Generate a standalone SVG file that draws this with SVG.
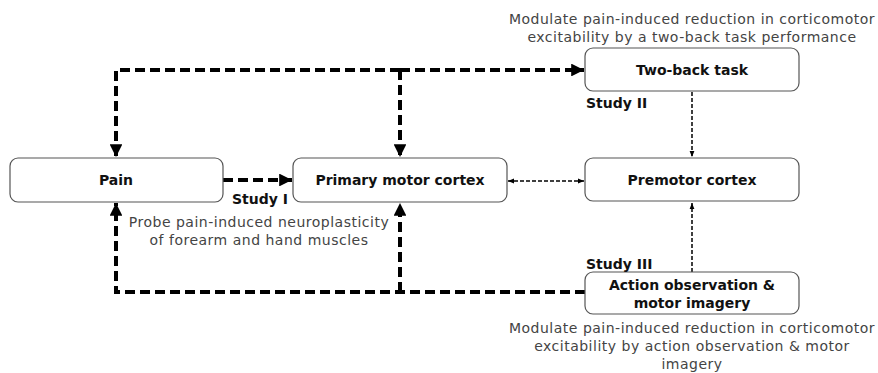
<svg xmlns="http://www.w3.org/2000/svg" width="878" height="373" viewBox="0 0 878 373">
<style>
.box{fill:#fff;stroke:#555;stroke-width:1.2}
.lbl{font-family:"DejaVu Sans",sans-serif;font-weight:bold;font-size:14px;fill:#111;text-anchor:middle}
.study{font-family:"DejaVu Sans",sans-serif;font-weight:bold;font-size:14px;fill:#111}
.note{font-family:"DejaVu Sans",sans-serif;font-size:14px;letter-spacing:0.5px;fill:#444;text-anchor:middle}
.thick{fill:none;stroke:#000;stroke-width:4;stroke-dasharray:10 5}
.thin{fill:none;stroke:#000;stroke-width:1.5;stroke-dasharray:4 2}
</style>
<defs>
<marker id="ah" viewBox="0 0 10 10" refX="10" refY="5" markerWidth="3.2" markerHeight="3.2" orient="auto" markerUnits="strokeWidth"><path d="M0,0 L10,5 L0,10 z" fill="#000"/></marker>
<marker id="as" viewBox="0 0 10 10" refX="10" refY="5" markerWidth="4" markerHeight="4" orient="auto-start-reverse" markerUnits="strokeWidth"><path d="M0,1 L10,5 L0,9 z" fill="#000"/></marker>
</defs>
<g id="connectors">
<path class="thick" d="M400,70 H116 V157" marker-end="url(#ah)"/>
<path class="thick" d="M400,70 H584" marker-end="url(#ah)"/>
<path class="thick" d="M400,70 V157" marker-end="url(#ah)"/>
<path class="thick" d="M223,180 H292" marker-end="url(#ah)"/>
<path class="thick" d="M585,292 H116 V203" marker-end="url(#ah)"/>
<path class="thick" d="M400,292 V203" marker-end="url(#ah)"/>
<path class="thin" d="M508,181 H584" marker-start="url(#as)" marker-end="url(#as)"/>
<path class="thin" d="M692,92 V157" marker-end="url(#as)"/>
<path class="thin" d="M692,272 V203" marker-end="url(#as)"/>
</g>
<g id="pain"><rect class="box" x="10" y="158" width="213" height="44" rx="8"/><text class="lbl" x="116" y="185">Pain</text></g>
<g id="pmc"><rect class="box" x="293" y="158" width="214" height="44" rx="8"/><text class="lbl" x="400" y="185">Primary motor cortex</text></g>
<g id="premotor"><rect class="box" x="585" y="158" width="214" height="43" rx="8"/><text class="lbl" x="692" y="185">Premotor cortex</text></g>
<g id="twoback"><rect class="box" x="585" y="48" width="214" height="43" rx="8"/><text class="lbl" x="692" y="75">Two-back task</text></g>
<g id="action"><rect class="box" x="585" y="272" width="214" height="42" rx="8"/><text class="lbl" x="692" y="290">Action observation  &amp;</text><text class="lbl" x="692" y="308">motor imagery</text></g>
<g id="labels">
<text class="study" x="232" y="204">Study I</text>
<text class="study" x="586" y="108">Study II</text>
<text class="study" x="586" y="269">Study III</text>
<text class="note" x="692" y="24">Modulate pain-induced reduction in corticomotor</text>
<text class="note" x="692" y="42">excitability by a two-back task performance</text>
<text class="note" x="259" y="227">Probe pain-induced neuroplasticity</text>
<text class="note" x="259" y="245">of forearm and hand muscles</text>
<text class="note" x="692" y="333">Modulate pain-induced reduction in corticomotor</text>
<text class="note" x="692" y="351">excitability by action observation &amp; motor</text>
<text class="note" x="692" y="369">imagery</text>
</g>
</svg>
